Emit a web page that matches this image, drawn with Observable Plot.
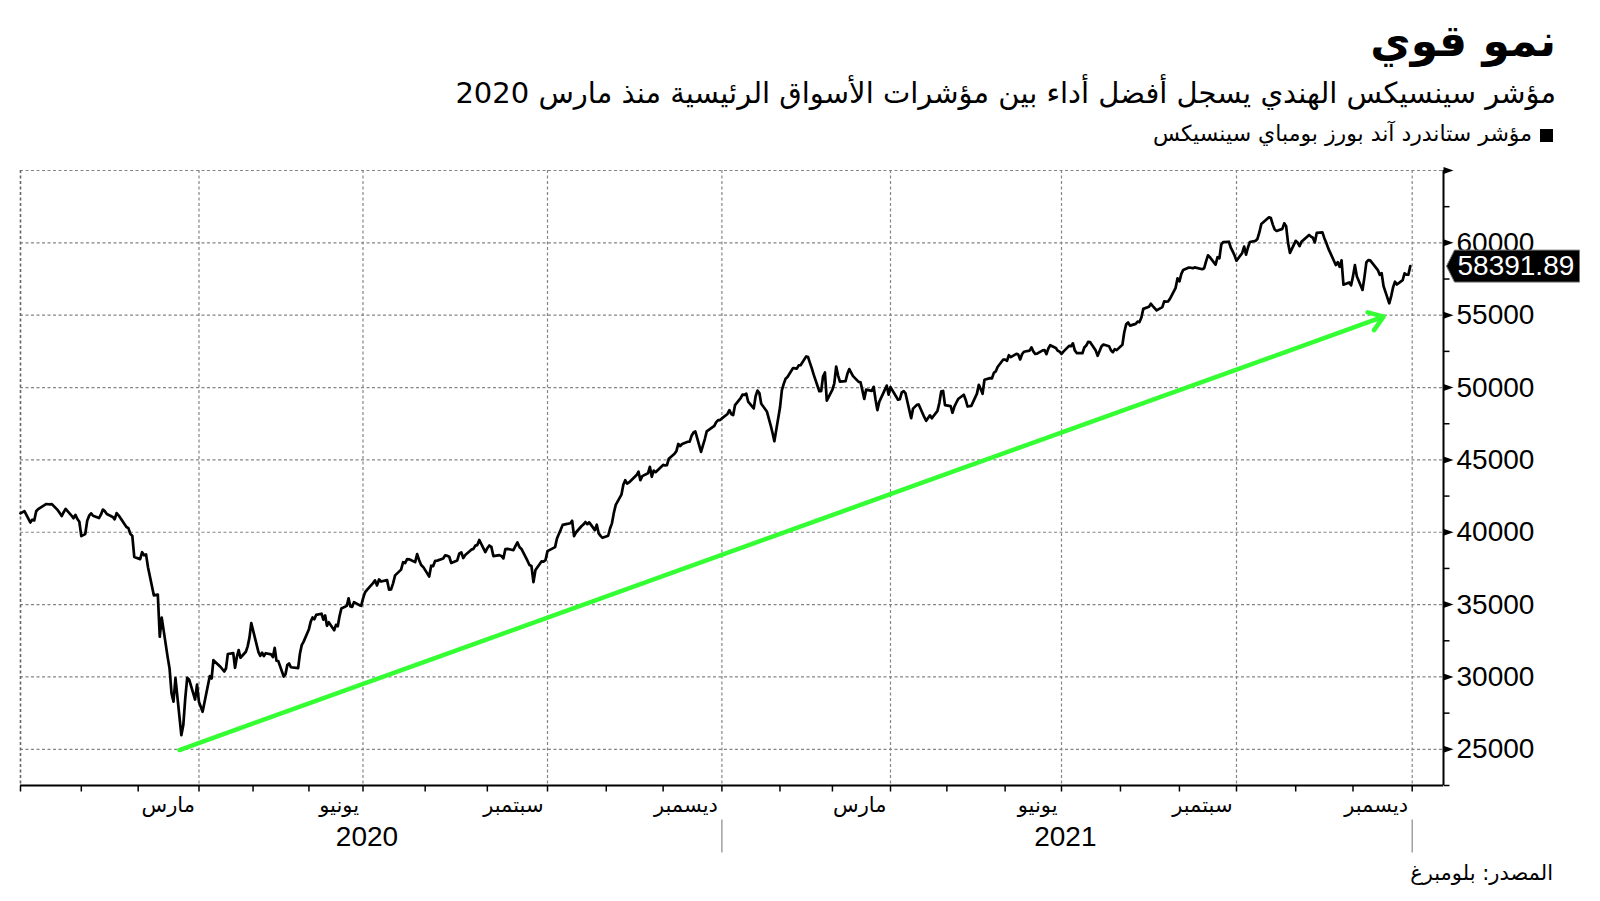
<!DOCTYPE html>
<html lang="ar">
<head>
<meta charset="utf-8">
<script src="https://cdn.jsdelivr.net/npm/d3@7"></script>
<script src="https://cdn.jsdelivr.net/npm/@observablehq/plot@0.6"></script>
<style>
  html, body { margin: 0; padding: 0; background: #fff; }
  body { width: 1600px; height: 901px; position: relative; overflow: hidden; font-family: "DejaVu Sans", sans-serif; color: #000; }
  .t { position: absolute; right: 44px; direction: rtl; white-space: nowrap; line-height: 1.2; }
  #title { top: 15px; font-size: 44px; font-weight: bold; }
  #subtitle { top: 76px; font-size: 29px; }
  #legend { top: 121px; font-size: 22px; right: 47px; }
  #legend .sq { display: inline-block; width: 13px; height: 13px; background: #000; margin-left: 8px; vertical-align: -1px; }
  #source { top: 861px; right: 47px; font-size: 21px; }
  #chart { position: absolute; left: 0; top: 150px; }
</style>
</head>
<body>
<div id="title" class="t">نمو قوي</div>
<div id="subtitle" class="t">مؤشر سينسيكس الهندي يسجل أفضل أداء بين مؤشرات الأسواق الرئيسية منذ مارس 2020</div>
<div id="legend" class="t"><span class="sq"></span>مؤشر ستاندرد آند بورز بومباي سينسيكس</div>
<div id="chart"></div>
<div id="source" class="t">المصدر: بلومبرغ</div>
<script>
// ---- data ----
const sensexDates = [
"2020-01-01","2020-01-03","2020-01-06","2020-01-07","2020-01-08","2020-01-09","2020-01-10","2020-01-13","2020-01-14","2020-01-16","2020-01-17","2020-01-20","2020-01-21","2020-01-22","2020-01-23","2020-01-24","2020-01-27","2020-01-28","2020-01-29","2020-01-30","2020-01-31","2020-02-01","2020-02-03","2020-02-04","2020-02-05","2020-02-06","2020-02-07","2020-02-10","2020-02-11","2020-02-12","2020-02-13","2020-02-14","2020-02-17","2020-02-18","2020-02-19","2020-02-20","2020-02-24","2020-02-25","2020-02-26","2020-02-27","2020-02-28",
"2020-03-02","2020-03-03","2020-03-04","2020-03-05","2020-03-06","2020-03-09","2020-03-11","2020-03-12","2020-03-13","2020-03-16","2020-03-17","2020-03-18","2020-03-19","2020-03-20","2020-03-23","2020-03-24","2020-03-25","2020-03-26","2020-03-27","2020-03-30","2020-03-31",
"2020-04-01","2020-04-03","2020-04-07","2020-04-08","2020-04-09","2020-04-13","2020-04-15","2020-04-16","2020-04-17","2020-04-20","2020-04-21","2020-04-22","2020-04-23","2020-04-24","2020-04-27","2020-04-28","2020-04-29","2020-04-30",
"2020-05-04","2020-05-05","2020-05-06","2020-05-07","2020-05-08","2020-05-11","2020-05-12","2020-05-13","2020-05-14","2020-05-15","2020-05-18","2020-05-19","2020-05-20","2020-05-21","2020-05-22","2020-05-26","2020-05-27","2020-05-28","2020-05-29",
"2020-06-01","2020-06-02","2020-06-03","2020-06-04","2020-06-05","2020-06-08","2020-06-09","2020-06-10","2020-06-11","2020-06-12","2020-06-15","2020-06-16","2020-06-17","2020-06-18","2020-06-19","2020-06-22","2020-06-23","2020-06-24","2020-06-25","2020-06-26","2020-06-29","2020-06-30",
"2020-07-01","2020-07-02","2020-07-03","2020-07-06","2020-07-07","2020-07-08","2020-07-09","2020-07-10","2020-07-13","2020-07-14","2020-07-15","2020-07-16","2020-07-17","2020-07-20","2020-07-21","2020-07-22","2020-07-23","2020-07-24","2020-07-27","2020-07-28","2020-07-29","2020-07-30","2020-07-31",
"2020-08-03","2020-08-04","2020-08-05","2020-08-06","2020-08-07","2020-08-10","2020-08-11","2020-08-12","2020-08-13","2020-08-14","2020-08-17","2020-08-18","2020-08-19","2020-08-20","2020-08-21","2020-08-24","2020-08-25","2020-08-26","2020-08-27","2020-08-28","2020-08-31",
"2020-09-01","2020-09-02","2020-09-03","2020-09-04","2020-09-07","2020-09-08","2020-09-09","2020-09-10","2020-09-11","2020-09-14","2020-09-15","2020-09-16","2020-09-17","2020-09-18","2020-09-21","2020-09-22","2020-09-23","2020-09-24","2020-09-25","2020-09-28","2020-09-29","2020-09-30",
"2020-10-01","2020-10-05","2020-10-06","2020-10-07","2020-10-08","2020-10-09","2020-10-12","2020-10-13","2020-10-14","2020-10-15","2020-10-16","2020-10-19","2020-10-20","2020-10-21","2020-10-22","2020-10-23","2020-10-26","2020-10-27","2020-10-28","2020-10-29","2020-10-30",
"2020-11-02","2020-11-03","2020-11-04","2020-11-05","2020-11-06","2020-11-09","2020-11-10","2020-11-11","2020-11-12","2020-11-13","2020-11-17","2020-11-18","2020-11-19","2020-11-20","2020-11-23","2020-11-24","2020-11-25","2020-11-26","2020-11-27",
"2020-12-01","2020-12-02","2020-12-03","2020-12-04","2020-12-07","2020-12-08","2020-12-09","2020-12-10","2020-12-11","2020-12-14","2020-12-15","2020-12-16","2020-12-17","2020-12-18","2020-12-21","2020-12-22","2020-12-23","2020-12-24","2020-12-28","2020-12-29","2020-12-30","2020-12-31",
"2021-01-01","2021-01-04","2021-01-05","2021-01-06","2021-01-07","2021-01-08","2021-01-11","2021-01-12","2021-01-13","2021-01-14","2021-01-15","2021-01-18","2021-01-19","2021-01-20","2021-01-21","2021-01-22","2021-01-25","2021-01-27","2021-01-28","2021-01-29",
"2021-02-01","2021-02-02","2021-02-03","2021-02-04","2021-02-05","2021-02-08","2021-02-09","2021-02-10","2021-02-11","2021-02-12","2021-02-15","2021-02-16","2021-02-17","2021-02-18","2021-02-19","2021-02-22","2021-02-23","2021-02-24","2021-02-25","2021-02-26",
"2021-03-01","2021-03-02","2021-03-03","2021-03-04","2021-03-05","2021-03-08","2021-03-09","2021-03-10","2021-03-12","2021-03-15","2021-03-16","2021-03-17","2021-03-18","2021-03-19","2021-03-22","2021-03-23","2021-03-24","2021-03-25","2021-03-26","2021-03-30","2021-03-31",
"2021-04-01","2021-04-05","2021-04-06","2021-04-07","2021-04-08","2021-04-09","2021-04-12","2021-04-13","2021-04-15","2021-04-16","2021-04-19","2021-04-20","2021-04-22","2021-04-23","2021-04-26","2021-04-27","2021-04-28","2021-04-29","2021-04-30",
"2021-05-03","2021-05-04","2021-05-05","2021-05-06","2021-05-07","2021-05-10","2021-05-11","2021-05-12","2021-05-14","2021-05-17","2021-05-18","2021-05-19","2021-05-20","2021-05-21","2021-05-24","2021-05-25","2021-05-26","2021-05-27","2021-05-28","2021-05-31",
"2021-06-01","2021-06-02","2021-06-03","2021-06-04","2021-06-07","2021-06-08","2021-06-09","2021-06-10","2021-06-11","2021-06-14","2021-06-15","2021-06-16","2021-06-17","2021-06-18","2021-06-21","2021-06-22","2021-06-23","2021-06-24","2021-06-25","2021-06-28","2021-06-29","2021-06-30",
"2021-07-01","2021-07-02","2021-07-05","2021-07-06","2021-07-07","2021-07-08","2021-07-09","2021-07-12","2021-07-13","2021-07-14","2021-07-15","2021-07-16","2021-07-19","2021-07-20","2021-07-22","2021-07-23","2021-07-26","2021-07-27","2021-07-28","2021-07-29","2021-07-30",
"2021-08-02","2021-08-03","2021-08-04","2021-08-05","2021-08-06","2021-08-09","2021-08-10","2021-08-11","2021-08-12","2021-08-13","2021-08-16","2021-08-17","2021-08-18","2021-08-20","2021-08-23","2021-08-24","2021-08-25","2021-08-26","2021-08-27","2021-08-30","2021-08-31",
"2021-09-01","2021-09-02","2021-09-03","2021-09-06","2021-09-07","2021-09-08","2021-09-09","2021-09-13","2021-09-14","2021-09-15","2021-09-16","2021-09-17","2021-09-20","2021-09-21","2021-09-22","2021-09-23","2021-09-24","2021-09-27","2021-09-28","2021-09-29","2021-09-30",
"2021-10-01","2021-10-04","2021-10-05","2021-10-06","2021-10-07","2021-10-08","2021-10-11","2021-10-12","2021-10-13","2021-10-14","2021-10-18","2021-10-19","2021-10-20","2021-10-21","2021-10-22","2021-10-25","2021-10-26","2021-10-27","2021-10-28","2021-10-29",
"2021-11-01","2021-11-02","2021-11-03","2021-11-04","2021-11-08","2021-11-09","2021-11-10","2021-11-11","2021-11-12","2021-11-15","2021-11-16","2021-11-17","2021-11-18","2021-11-22","2021-11-23","2021-11-24","2021-11-25","2021-11-26","2021-11-29","2021-11-30",
"2021-12-01","2021-12-02","2021-12-03","2021-12-06","2021-12-07","2021-12-08","2021-12-09","2021-12-10","2021-12-13","2021-12-14","2021-12-15","2021-12-16","2021-12-17","2021-12-20","2021-12-21","2021-12-22","2021-12-23","2021-12-24","2021-12-27","2021-12-28","2021-12-29","2021-12-30","2021-12-31"
];
const sensexValues = [
41306,41465,40677,40870,40818,41452,41600,41860,41952,41933,41945,41529,41324,41115,41386,41613,41155,40967,41199,40914,40723,39736,39872,40789,41143,41306,41142,40980,41217,41566,41460,41258,41056,40894,41323,41170,40363,40282,39889,39746,38297,
38144,38623,38409,38471,37577,35635,35697,32778,34103,31390,30579,28869,28288,29916,25981,26674,28536,29947,29816,28440,29468,
28265,27591,30067,29894,31160,30690,30380,30603,31589,31648,30636,31380,31863,31327,31744,32115,32720,33718,
31715,31453,31686,31443,31643,31562,31371,32009,31123,31098,30029,30197,30819,30933,30673,30609,31605,32201,32424,
33304,33825,34110,33981,34287,34371,33957,34247,33538,33781,33229,33605,33508,34208,34732,34911,35430,34868,34843,35171,34962,34916,
35414,35844,36021,36487,36675,36329,36738,36594,36693,36033,36052,36472,37020,37418,37930,37872,38140,38129,37935,38493,38071,37736,37607,
36940,37688,37663,38025,38041,38182,38407,38370,38310,37877,38051,38528,38614,38220,38434,38799,38843,39074,39113,39467,38628,
38900,39086,38991,38357,38417,38365,38194,38840,38855,38757,39044,39303,38980,38845,38034,37734,37669,36553,37389,37982,37973,38068,
38697,38974,39574,39879,40183,40509,40594,40626,40795,39728,39983,40432,40544,40707,40558,40686,40146,40522,39922,39750,39614,
39758,40261,40616,41340,41893,42597,43278,43594,43357,43443,43953,44180,43600,43882,44077,44523,43828,44260,44150,
44655,44618,44633,45080,45426,45608,46104,45960,46099,46254,46263,46666,46890,46961,45554,46007,46444,46974,47354,47614,47746,47751,
47869,48177,48438,48174,48093,48782,49269,49518,49492,49584,49035,48564,49398,49792,49625,48879,48348,47410,46874,46286,
48601,49798,50255,50614,50732,51349,51329,51309,51532,51544,52154,52104,51704,51324,50890,49744,49752,50782,51039,49100,
49850,50297,51445,50846,50406,50441,50952,51280,50792,50395,50364,49802,49216,49858,49771,50051,49180,48440,49008,50136,49509,
50030,49159,49202,49662,49746,49591,47883,48544,48804,48832,47950,47706,48080,47878,48387,48944,49734,49766,48782,
48719,48254,48677,48950,49206,49503,49162,48690,48733,49581,50194,49903,49565,50540,50652,50638,51017,51115,51423,51937,
51935,51849,52232,52100,52329,52276,51942,52301,52475,52551,52773,52502,52323,52344,52574,52588,52307,52699,52925,52736,52549,52483,
52319,52485,52880,52861,53055,52569,52386,52373,52770,52904,53159,53140,52553,52199,52838,52976,52852,52579,52444,52654,52587,
52951,53823,54370,54493,54278,54403,54555,54526,54844,55437,55583,55792,55629,55329,55555,55959,55944,55949,56125,56890,57553,
57339,57853,58130,58297,58280,58250,58305,58178,58247,58723,59141,59015,58491,59006,58927,59885,60048,60078,59668,59414,59126,
58765,59300,59745,59190,59678,60059,60136,60284,60737,61306,61766,61716,61260,60924,60822,60967,61350,61144,59985,59307,
60139,60030,59772,60068,60546,60434,60353,60029,60687,60719,60322,60008,59636,58465,58664,58341,58796,57107,57261,57065,
57685,58461,57696,56747,57634,58650,58807,58787,58283,58117,57789,57901,57012,55822,56319,56931,57316,57124,57420,57897,57806,57794,58391.89
];
const seriesName = "مؤشر ستاندرد آند بورز بومباي سينسيكس";

// axis / annotation values
const gridValues = [25000, 30000, 35000, 40000, 45000, 50000, 55000, 60000, 65000];
const minorValues = [22500, 27500, 32500, 37500, 42500, 47500, 52500, 57500, 62500];
const labelValues = [25000, 30000, 35000, 40000, 45000, 50000, 55000, 60000];
const gridDates = ["2020-04-01","2020-07-01","2020-10-01","2021-01-01","2021-04-01","2021-07-01","2021-10-01","2022-01-01"];
const monthLabels = ["مارس","يونيو","سبتمبر","ديسمبر","مارس","يونيو","سبتمبر","ديسمبر"];
const yearLabels = ["2020", "2021"];
const yearCenters = ["2020-07-03", "2021-07-03"];
const yearBreaks = ["2021-01-01", "2022-01-01"];
const arrowFrom = {date: "2020-03-22", value: 24950};
const arrowTo = {date: "2021-12-17", value: 54900};

// ---- build ----
const P = s => new Date(s + "T00:00:00Z");
const data = sensexDates.map((d, i) => ({date: P(d), value: sensexValues[i]}));
const last = data[data.length - 1];
const xStart = P("2020-01-01");
const xEnd = P("2022-01-17");
const yMin = 22500, yMax = 65000;
const monthTicks = d3.utcMonths(xStart, P("2022-01-02"));

// custom symbols (pixel geometry relative to the scaled anchor point)
const triRight = {draw(c) { c.moveTo(0, -3.5); c.lineTo(10, 0); c.lineTo(0, 3.5); c.closePath(); }};
const hTick = {draw(c) { c.moveTo(0, 0); c.lineTo(6, 0); }};
const vTick = {draw(c) { c.moveTo(0, 0); c.lineTo(0, 6); }};
const yearSep = {draw(c) { c.moveTo(0, 34); c.lineTo(0, 67); }};
const tag = {draw(c) { c.moveTo(3, 0); c.lineTo(11, -16); c.lineTo(136, -16); c.lineTo(136, 16); c.lineTo(11, 16); c.closePath(); }};

const gridStyle = {stroke: "#858585", strokeWidth: 1.2, strokeDasharray: "3,2.5"};
const numFont = "'Liberation Sans', Arial, sans-serif";
const arFont = "'DejaVu Sans', sans-serif";

const chart = Plot.plot({
  width: 1600,
  height: 710,
  marginTop: 20,
  marginBottom: 75,
  marginLeft: 20,
  marginRight: 157,
  style: {fontFamily: numFont, background: "white", overflow: "visible"},
  x: {
    type: "utc",
    domain: [xStart, P("2020-04-01"), P("2020-07-01"), P("2020-10-01"), P("2021-01-01"), P("2021-04-01"), P("2021-07-01"), P("2021-10-01"), P("2022-01-01"), xEnd],
    range: [20, 198.5, 362.5, 547, 721.4, 890, 1061, 1236, 1411.7, 1443],
    axis: null
  },
  y: {domain: [yMin, yMax], axis: null},
  marks: [
    Plot.ruleY(gridValues, {y: d => d, ...gridStyle}),
    Plot.ruleX(gridDates, {x: d => P(d), ...gridStyle}),
    Plot.ruleX([xStart], {x: d => d, ...gridStyle, stroke: "#666", strokeWidth: 1.6}),
    Plot.arrow([0], {
      x1: () => P(arrowFrom.date), y1: () => arrowFrom.value,
      x2: () => P(arrowTo.date), y2: () => arrowTo.value,
      stroke: "#33ff33", strokeWidth: 4.5, headLength: 5.5, headAngle: 70
    }),
    Plot.line(data, {x: "date", y: "value", stroke: "black", strokeWidth: 2.7, strokeLinejoin: "round"}),
    // axes
    Plot.ruleY([yMin], {y: d => d, stroke: "black", strokeWidth: 2}),
    Plot.ruleX([xEnd], {x: d => d, stroke: "black", strokeWidth: 2}),
    Plot.dot(gridValues, {x: () => xEnd, y: d => d, symbol: triRight, fill: "black", stroke: "none"}),
    Plot.dot(minorValues, {x: () => xEnd, y: d => d, symbol: hTick, fill: "none", stroke: "black", strokeWidth: 1.5}),
    Plot.dot(monthTicks, {x: d => d, y: () => yMin, symbol: vTick, fill: "none", stroke: "black", strokeWidth: 1.5}),
    Plot.text(labelValues, {x: () => xEnd, y: d => d, text: d => String(d), textAnchor: "start", dx: 13, fontSize: 28, fill: "black"}),
    Plot.text(gridDates, {x: d => P(d), y: () => yMin, text: (d, i) => monthLabels[i], textAnchor: "end", dx: -4, dy: 20, fontSize: 21, fontFamily: arFont, fill: "black"}),
    Plot.text(yearCenters, {x: d => P(d), y: () => yMin, text: (d, i) => yearLabels[i], textAnchor: "middle", dy: 52, fontSize: 28, fill: "black"}),
    Plot.dot(yearBreaks, {x: d => P(d), y: () => yMin, symbol: yearSep, fill: "none", stroke: "#8a8a8a", strokeWidth: 1.2}),
    // last value tag
    Plot.dot([last], {x: () => xEnd, y: "value", symbol: tag, fill: "black", stroke: "#777", strokeWidth: 1}),
    Plot.text([last], {x: () => xEnd, y: "value", text: d => d3.format(".2f")(d.value), textAnchor: "start", dx: 14, fontSize: 28, fill: "white"})
  ]
});
document.getElementById("chart").appendChild(chart);
</script>
</body>
</html>
